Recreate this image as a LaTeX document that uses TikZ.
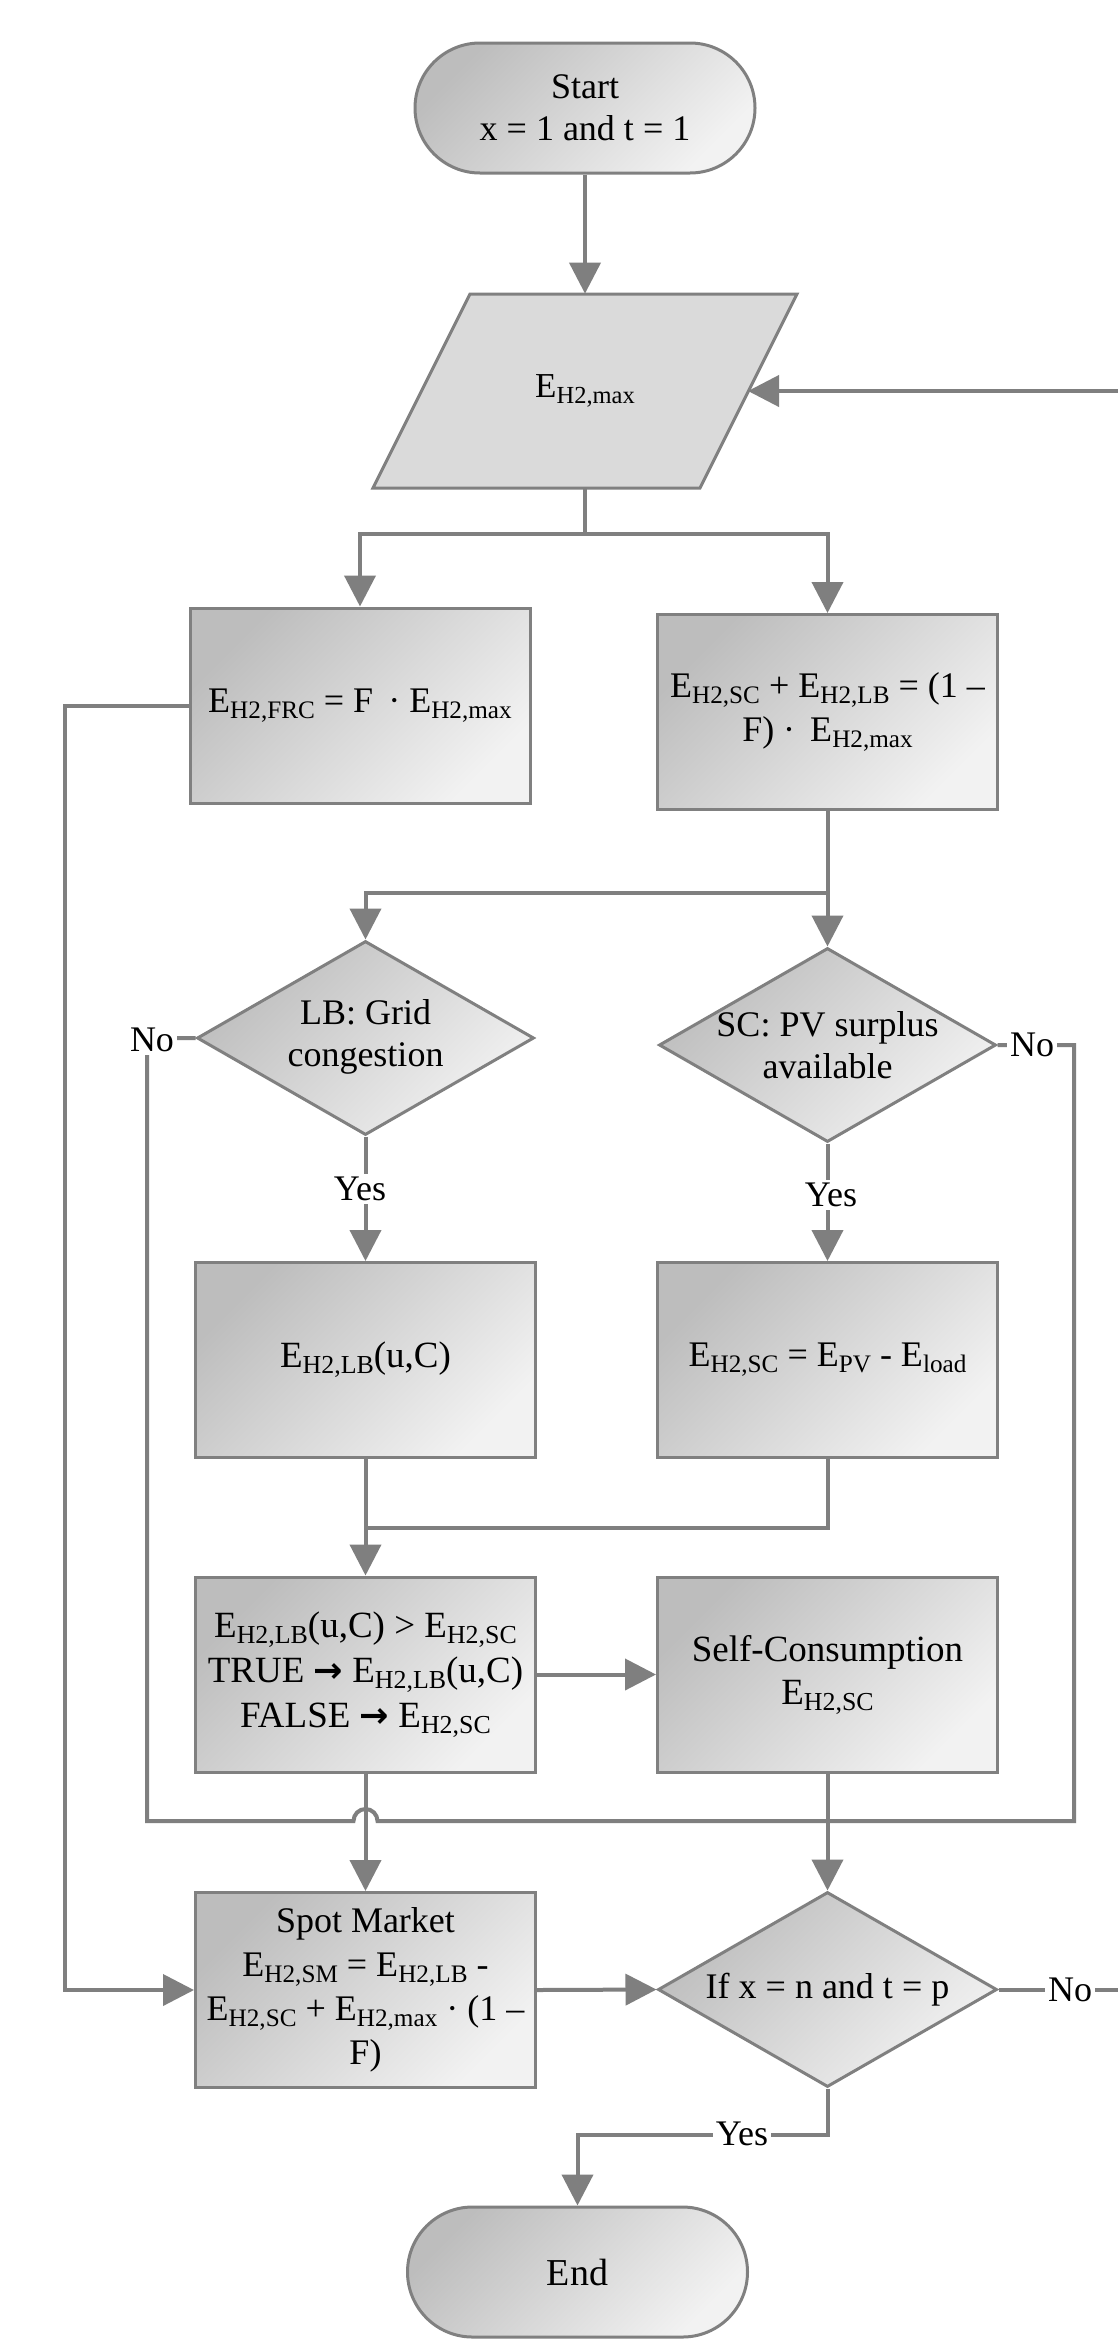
\documentclass[tikz,border=0pt]{standalone}
\usepackage{fontspec}
\usepackage{graphicx}
\setmainfont{Liberation Serif}
\newfontfamily\fArrow{DejaVu Sans}
\usetikzlibrary{arrows.meta,shapes.geometric}
\newcommand\subx[1]{\raisebox{-0.16em}{\scalebox{0.7}{#1}}}
\newcommand\rarr{{\fArrow\bfseries\scalebox{0.95}{→}}}
\definecolor{bordc}{HTML}{808080}
\definecolor{lnc}{HTML}{7F7F7F}
\definecolor{gDark}{HTML}{BDBDBD}
\definecolor{gLight}{HTML}{F2F2F2}
\definecolor{paraFill}{HTML}{DADADA}
\tikzset{
  shp/.style={draw=bordc, line width=1.5pt, inner sep=0pt, left color=gDark, right color=gLight, shading angle=45},
  procbox/.style={shp, rectangle, minimum width=170pt, minimum height=97.5pt, align=center, font=\fontsize{18}{22}\selectfont},
  termbox/.style={shp, rectangle, rounded corners=32.5pt, minimum width=170pt, minimum height=65pt, align=center},
  decide/.style={shp, diamond, minimum width=168.5pt, minimum height=97pt},
  dtext/.style={align=center, font=\fontsize{18}{21}\selectfont},
  conn/.style={draw=lnc, line width=2pt, -{Triangle[length=15.5pt,width=15.5pt]}},
  plainln/.style={draw=lnc, line width=2pt},
  lbl/.style={fill=white, inner sep=1.5pt, font=\fontsize{18}{20}\selectfont},
}
\begin{document}
\begin{tikzpicture}[x=0.5pt,y=-0.5pt]
\useasboundingbox (0,0) rectangle (1118,2340);
\fill[white] (0,0) rectangle (1118,2340);

% shapes
\node[termbox, font=\fontsize{18}{21}\selectfont] (start) at (585,108) {Start\\x = 1 and t = 1};

\path[draw=bordc, line width=1.5pt, fill=paraFill] (470,294) -- (797,294) -- (700,488) -- (373,488) -- cycle;
\node[minimum width=163.5pt, minimum height=97pt, inner sep=0pt, font=\fontsize{17.5}{20}\selectfont] (para) at (585,391) {E\subx{H2,max}};
\coordinate (paraR) at (748,391);
\coordinate (edgeT) at (1118,391);

\node[procbox] (frc) at (360,705.5) {E\subx{H2,FRC} = F\,\ · E\subx{H2,max}};
\node[procbox] (sum) at (827.5,712) {E\subx{H2,SC} + E\subx{H2,LB} = (1 –\\F) ·\ \,E\subx{H2,max}};

\node[decide] (lb) at (365.5,1038) {};
\node[dtext] (lbt) at (365.5,1037) {LB: Grid\\congestion};
\node[decide] (sc) at (827.5,1045) {};
\node[dtext] (sct) at (827.5,1045) {SC: PV surplus\\available};

\node[procbox, font=\fontsize{18.5}{22}\selectfont] (lbb) at (365.5,1360) {E\subx{H2,LB}(u,C)};
\node[procbox] (scb) at (827.5,1360) {E\subx{H2,SC} = E\subx{PV} - E\subx{load}};

\node[procbox, font=\fontsize{18.5}{22.5}\selectfont] (cmp) at (365.5,1674.5) {E\subx{H2,LB}(u,C) > E\subx{H2,SC}\\TRUE \rarr{} E\subx{H2,LB}(u,C)\\FALSE \rarr{} E\subx{H2,SC}};
\node[procbox, font=\fontsize{18.5}{21.5}\selectfont] (self) at (827.5,1674.5) {Self-Consumption\\E\subx{H2,SC}};

\node[procbox] (spot) at (365.5,1990) {Spot Market\\E\subx{H2,SM} = E\subx{H2,LB} -\\E\subx{H2,SC} + E\subx{H2,max} · (1 –\\F)};
\node[decide, minimum width=169.5pt, minimum height=97.5pt] (fin) at (827.5,1989.5) {};
\node[dtext] (fint) at (827.5,1990) {If x = n and t = p};

\node[termbox, font=\fontsize{19}{22}\selectfont] (end) at (577.5,2272) {End};

% connectors
\draw[conn] (start) -- (para);
\coordinate (s1) at (585,534);
\draw[plainln] (para.south) -- (s1);
\draw[conn] (s1) -| (frc.north);
\draw[conn] (s1) -| (sum.north);
\draw[conn] (edgeT) -- (paraR);

\coordinate (s2) at (827.5,893);
\draw[plainln] (sum.south) -- (s2);
\draw[conn] (s2) -| (lb.north);
\draw[conn] (s2) -- (sc.north);

\draw[conn] (lb.south) -- (lbb.north);
\draw[conn] (sc.south) -- (scb.north);

\coordinate (m1) at (365.5,1528);
\draw[plainln] (scb.south) |- (m1);
\draw[conn] (lbb.south) -- (cmp.north);
\draw[conn] (cmp.east) -- (self.west);
\draw[conn] (cmp.south) -- (spot.north);
\draw[conn] (self.south) -- (fin.north);

\coordinate (nL) at (147,1038);
\coordinate (nLb) at (147,1821);
\coordinate (nRb) at (1074,1821);
\coordinate (nR) at (1074,1045);
\draw[plainln] (lb.west) -- (nL) -- (nLb) -- (353.5,1821) arc[start angle=180, end angle=0, radius=6pt] -- (nRb) -- (nR) -- (sc.east);

\draw[conn] (frc.west) -- ++(-124,0) |- (spot.west);
\draw[conn] (spot.east) -- (fin.west);
\coordinate (edgeB) at (1118,1989.5);
\draw[plainln] (fin.east) -- (edgeB);
\coordinate (y1) at (827.5,2135);
\draw[conn] (fin.south) -- (y1) -| (end.north);

% labels
\node[lbl] (yesL) at (360,1189) {Yes};
\node[lbl] (yesR) at (831,1195) {Yes};
\node[lbl] (noL) at (152,1040) {No};
\node[lbl] (noR) at (1032,1045) {No};
\node[lbl] (noF) at (1070,1990) {No};
\node[lbl] (yesF) at (742,2134) {Yes};
\end{tikzpicture}
\end{document}
